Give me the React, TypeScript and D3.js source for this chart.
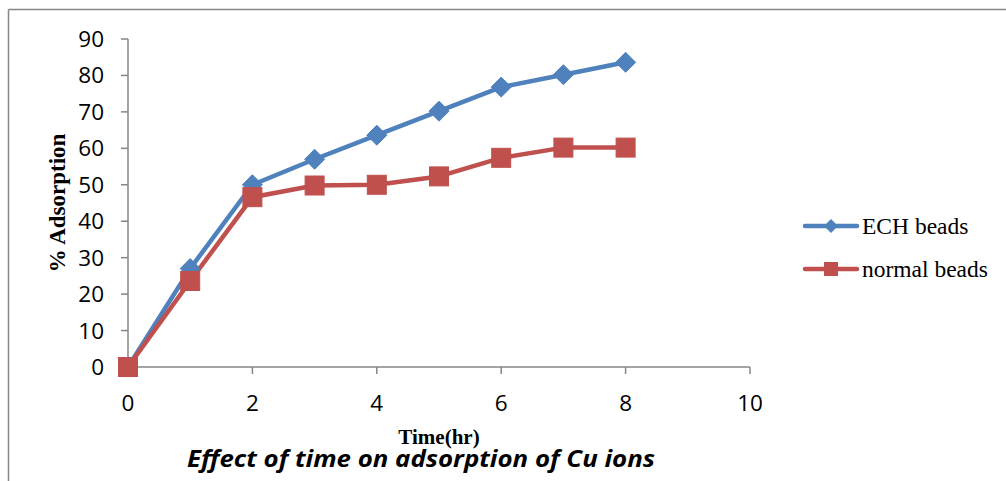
import React from "react";
import * as d3 from "d3";

const times = [0, 1, 2, 3, 4, 5, 6, 7, 8];
const echBeads = [0, 27, 50, 57, 63.6, 70.2, 76.8, 80.2, 83.6];
const normalBeads = [0, 23.6, 46.6, 49.8, 50, 52.3, 57.4, 60.2, 60.2];
const xTicks = [0, 2, 4, 6, 8, 10];
const yTicks = [0, 10, 20, 30, 40, 50, 60, 70, 80, 90];
const seriesNames = ["ECH beads", "normal beads"];

const W = 1006;
const H = 481;
const BLUE = "#4F81BD";
const RED = "#C0504D";
const AXIS = "#868686";

export default function App() {
  const x = d3.scaleLinear().domain([0, 10]).range([128, 750]);
  const y = d3.scaleLinear().domain([0, 90]).range([367, 39]);
  const line = d3
    .line<number>()
    .x((_, i) => x(times[i]))
    .y((d) => y(d));

  const tickFont = "'Open Sans', 'Liberation Sans', sans-serif";
  const serif = "'Liberation Serif', 'Times New Roman', serif";

  const diamond = (cx: number, cy: number, r: number) =>
    `M${cx},${cy - r}L${cx + r},${cy}L${cx},${cy + r}L${cx - r},${cy}Z`;

  return (
    <svg
      width={W}
      height={H}
      style={{ position: "absolute", left: 0, top: 0, background: "#fff" }}
    >
      <rect x={0} y={0} width={W} height={H} fill="#fff" />
      {/* outer border */}
      <line x1={8.5} y1={9.5} x2={W} y2={9.5} stroke={AXIS} strokeWidth={1.5} />
      <line x1={8.5} y1={9.5} x2={8.5} y2={H} stroke={AXIS} strokeWidth={1.5} />

      {/* y axis */}
      <line x1={x(0)} y1={y(0)} x2={x(0)} y2={y(90)} stroke={AXIS} strokeWidth={1.5} />
      {yTicks.map((t) => (
        <g key={"y" + t}>
          <line x1={x(0) - 7} x2={x(0)} y1={y(t)} y2={y(t)} stroke={AXIS} strokeWidth={1.5} />
          <text
            x={x(0) - 24}
            y={y(t) + 8}
            textAnchor="end"
            fontFamily={tickFont}
            fontSize={22.5}
            fill="#000"
          >
            {t}
          </text>
        </g>
      ))}

      {/* x axis */}
      <line x1={x(0)} y1={y(0)} x2={x(10)} y2={y(0)} stroke={AXIS} strokeWidth={1.5} />
      {xTicks.map((t) => (
        <g key={"x" + t}>
          <line x1={x(t)} x2={x(t)} y1={y(0)} y2={y(0) + 7} stroke={AXIS} strokeWidth={1.5} />
          <text
            x={x(t)}
            y={y(0) + 44}
            textAnchor="middle"
            fontFamily={tickFont}
            fontSize={22.5}
            fill="#000"
          >
            {t}
          </text>
        </g>
      ))}

      {/* axis titles */}
      <text
        transform={`translate(65,203) rotate(-90)`}
        textAnchor="middle"
        fontFamily={serif}
        fontWeight="bold"
        fontSize={23}
        fill="#000"
      >
        % Adsorption
      </text>
      <text
        x={439}
        y={444}
        textAnchor="middle"
        fontFamily={serif}
        fontWeight="bold"
        fontSize={21}
        fill="#000"
      >
        Time(hr)
      </text>
      <text
        x={421}
        y={467}
        textAnchor="middle"
        fontFamily={tickFont}
        fontWeight="bold"
        fontStyle="italic"
        fontSize={23}
        textLength={468}
        lengthAdjust="spacingAndGlyphs"
        fill="#000"
      >
        Effect of time on adsorption of Cu ions
      </text>

      {/* series */}
      <path d={line(echBeads) || ""} fill="none" stroke={BLUE} strokeWidth={4.5} strokeLinejoin="round" />
      <path d={line(normalBeads) || ""} fill="none" stroke={RED} strokeWidth={4.5} strokeLinejoin="round" />
      {echBeads.map((v, i) => (
        <path key={"e" + i} d={diamond(x(times[i]), y(v), 10)} fill={BLUE} stroke={BLUE} strokeWidth={1} />
      ))}
      {normalBeads.map((v, i) => (
        <rect
          key={"n" + i}
          x={x(times[i]) - 9.5}
          y={y(v) - 9.5}
          width={19}
          height={19}
          fill={RED}
          stroke={RED}
          strokeWidth={1}
        />
      ))}

      {/* legend */}
      {seriesNames.map((name, i) => {
        const ly = 226 + i * 43;
        const color = i === 0 ? BLUE : RED;
        return (
          <g key={name}>
            <line x1={805} x2={857} y1={ly} y2={ly} stroke={color} strokeWidth={4.5} strokeLinecap="round" />
            {i === 0 ? (
              <path d={diamond(831, ly, 7)} fill={color} />
            ) : (
              <rect x={824} y={ly - 7} width={14} height={14} fill={color} />
            )}
            <text
              x={862}
              y={ly + 8}
              fontFamily={serif}
              fontSize={23.5}
              fill="#000"
            >
              {name}
            </text>
          </g>
        );
      })}
    </svg>
  );
}
